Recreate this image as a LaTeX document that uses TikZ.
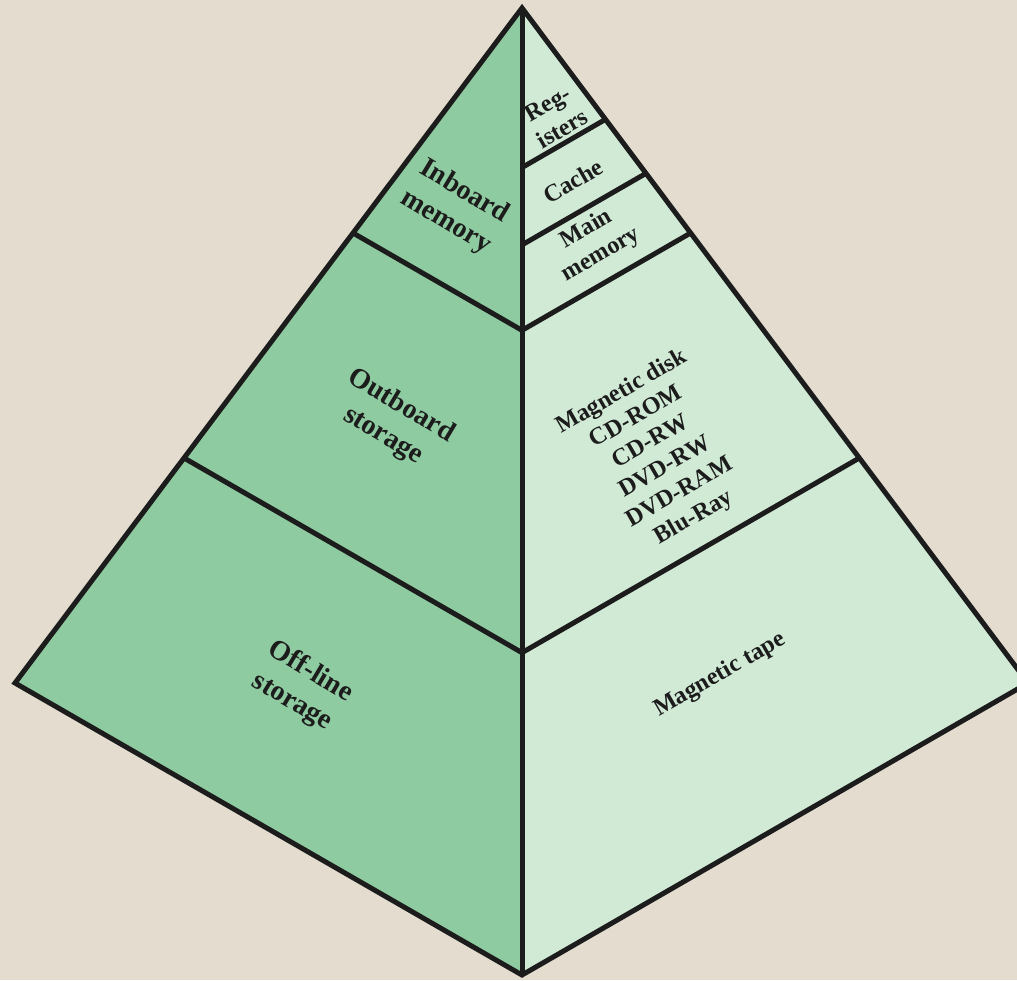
\documentclass[tikz,border=0pt]{standalone}
\usepackage{fontspec}
\setmainfont{Liberation Serif}
\usetikzlibrary{calc}
\definecolor{paper}{RGB}{227,220,207}
\definecolor{darkface}{RGB}{143,203,161}
\definecolor{lightface}{RGB}{209,234,214}
\definecolor{edgeink}{RGB}{28,28,28}
\tikzset{
  leftlabel/.style={font=\bfseries\fontsize{16}{20}\selectfont,align=center,
    text=edgeink,inner sep=0pt,rotate=-31},
  rightlabel/.style={font=\bfseries\fontsize{13.8}{16.5}\selectfont,align=center,
    text=edgeink,inner sep=0pt,rotate=30},
  pyrline/.style={draw=edgeink,line width=0.1cm,line join=miter}
}

\begin{document}
\begin{tikzpicture}[x=0.02cm,y=-0.02cm]
  \fill[paper] (0,0) rectangle (1017,980);
  \useasboundingbox (0,0) rectangle (1017,980);

  % corners of the pyramid
  \coordinate (apex) at (522,8);
  \coordinate (base) at (522,975);
  \coordinate (lcorner) at (15,683);
  \coordinate (rcorner) at (1028,683);

  % the two faces
  \fill[darkface] (apex) -- (lcorner) -- (base) -- cycle;
  \fill[lightface] (apex) -- (rcorner) -- (base) -- cycle;

  % level boundaries
  \coordinate (l1) at ($(apex)!1/3!(lcorner)$);
  \coordinate (l2) at ($(apex)!2/3!(lcorner)$);
  \coordinate (m1) at ($(apex)!1/3!(base)$);
  \coordinate (m2) at ($(apex)!2/3!(base)$);
  \coordinate (r1) at ($(apex)!1/3!(rcorner)$);
  \coordinate (r2) at ($(apex)!2/3!(rcorner)$);
  \coordinate (mreg) at ($(apex)!0.165!(base)$);
  \coordinate (rreg) at ($(apex)!0.165!(rcorner)$);
  \coordinate (mcache) at ($(apex)!0.245!(base)$);
  \coordinate (rcache) at ($(apex)!0.245!(rcorner)$);

  \draw[pyrline] (apex) -- (lcorner) -- (base) -- (rcorner) -- cycle;
  \draw[pyrline] (apex) -- (base);
  \draw[pyrline] (l1) -- (m1) -- (r1);
  \draw[pyrline] (l2) -- (m2) -- (r2);
  \draw[pyrline] (mreg) -- (rreg);
  \draw[pyrline] (mcache) -- (rcache);

  % left face
  \node[leftlabel] (inboard) at (455,207) {Inboard\\memory};
  \node[leftlabel] (outboard) at (392,421) {Outboard\\storage};
  \node[leftlabel] (offline) at (301,687) {Off-line\\storage};

  % right face
  \node[rightlabel] (registers) at (555,116) {Reg-\\isters};
  \node[rightlabel] (cache) at (573,181) {Cache};
  \node[rightlabel] (mainmem) at (594,242) {Main\\memory};
  \node[rightlabel] (disks) at (658,455)
    {Magnetic disk\\CD-ROM\\CD-RW\\DVD-RW\\DVD-RAM\\Blu-Ray};
  \node[rightlabel] (tape) at (720,675) {Magnetic tape};
\end{tikzpicture}
\end{document}
